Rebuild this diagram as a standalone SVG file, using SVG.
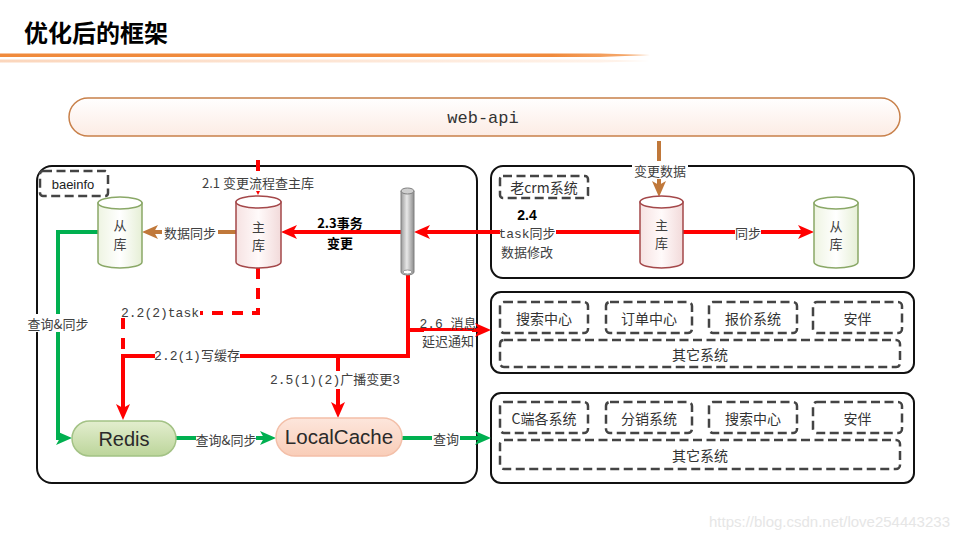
<svg xmlns="http://www.w3.org/2000/svg" width="960" height="540" viewBox="0 0 960 540">
<defs>
<style>
.cjk{font-family:"Noto Sans CJK SC","Liberation Sans",sans-serif;}
.mono{font-family:"Liberation Mono","Noto Sans CJK SC",monospace;}
.lbl{font-size:13px;fill:#404040;text-anchor:middle;dominant-baseline:central;}
.box{fill:#fff;stroke:#111;stroke-width:2;}
.dash{fill:#fff;stroke:#444;stroke-width:2.5;stroke-dasharray:9 4.5;}
.dtxt{font-family:"Noto Sans CJK SC","Liberation Sans",sans-serif;font-size:14px;fill:#333;text-anchor:middle;dominant-baseline:central;}
.red{fill:none;stroke:#ff0000;stroke-width:4;}
.reddash{fill:none;stroke:#ff0000;stroke-width:4;stroke-dasharray:11 9;}
.green{fill:none;stroke:#00b050;stroke-width:4;}
.brown{fill:none;stroke:#c0783a;stroke-width:4;}
.bg{fill:#fff;}
</style>
<marker id="ar" markerUnits="userSpaceOnUse" markerWidth="18" markerHeight="16" refX="10" refY="8" orient="auto"><path d="M0,1 L16,8 L0,15 L4,8 Z" fill="#ff0000"/></marker>
<marker id="ag" markerUnits="userSpaceOnUse" markerWidth="18" markerHeight="16" refX="10" refY="8" orient="auto"><path d="M0,1 L16,8 L0,15 L4,8 Z" fill="#00b050"/></marker>
<marker id="ab" markerUnits="userSpaceOnUse" markerWidth="18" markerHeight="16" refX="10" refY="8" orient="auto"><path d="M0,1 L16,8 L0,15 L4,8 Z" fill="#c0783a"/></marker>
<marker id="ars" markerUnits="userSpaceOnUse" markerWidth="10" markerHeight="8" refX="4" refY="4" orient="auto"><path d="M0,0 L8,4 L0,8 Z" fill="#ff0000"/></marker>
<linearGradient id="gApi" x1="0" y1="0" x2="0" y2="1"><stop offset="0" stop-color="#ffffff"/><stop offset="1" stop-color="#fcece4"/></linearGradient>
<linearGradient id="gCylG" x1="0" y1="0" x2="1" y2="0"><stop offset="0" stop-color="#eef4e2"/><stop offset="0.5" stop-color="#ffffff"/><stop offset="1" stop-color="#e6efd6"/></linearGradient>
<linearGradient id="gCylR" x1="0" y1="0" x2="1" y2="0"><stop offset="0" stop-color="#f6e2e2"/><stop offset="0.5" stop-color="#fffafa"/><stop offset="1" stop-color="#f2dada"/></linearGradient>
<linearGradient id="gPipe" x1="0" y1="0" x2="1" y2="0"><stop offset="0" stop-color="#9a9a9a"/><stop offset="0.45" stop-color="#e8e8e8"/><stop offset="1" stop-color="#8c8c8c"/></linearGradient>
<linearGradient id="gRedis" x1="0" y1="0" x2="0" y2="1"><stop offset="0" stop-color="#e3eecf"/><stop offset="1" stop-color="#bcd59a"/></linearGradient>
<linearGradient id="gLC" x1="0" y1="0" x2="0" y2="1"><stop offset="0" stop-color="#fde6dc"/><stop offset="1" stop-color="#f9cdb8"/></linearGradient>
<linearGradient id="gLine" x1="0" y1="0" x2="1" y2="0"><stop offset="0" stop-color="#f08a3c"/><stop offset="0.85" stop-color="#f08a3c"/><stop offset="1" stop-color="#f6b27c"/></linearGradient>
<linearGradient id="gLine2" x1="0" y1="0" x2="1" y2="0"><stop offset="0" stop-color="#fbd6bc"/><stop offset="1" stop-color="#fff4ec"/></linearGradient>
</defs>

<rect width="960" height="540" fill="#fff"/>

<g id="header">
<text x="24" y="42" class="cjk" font-size="24" font-weight="700" fill="#000">优化后的框架</text>
<polygon points="0,53.5 600,53.5 650,55 600,57 0,57" fill="url(#gLine)"/>
<polygon points="0,59.5 600,59.5 650,61 600,62.5 0,62.5" fill="url(#gLine2)"/>
</g>

<g id="web-api">
<rect x="69" y="98" width="831" height="38" rx="19" fill="url(#gApi)" stroke="#c8804a" stroke-width="1.5"/>
<text x="483" y="123" font-family="Liberation Mono, monospace" font-size="17" fill="#333" text-anchor="middle">web-api</text>
</g>

<g id="containers">
<rect id="box-baeinfo" x="37" y="166" width="440" height="317" rx="15" class="box"/>
<rect id="box-crm" x="491" y="166" width="423" height="112" rx="12" class="box"/>
<rect id="box-notify" x="491" y="292" width="423" height="81" rx="10" class="box"/>
<rect id="box-query" x="491" y="393" width="423" height="90" rx="10" class="box"/>
</g>

<g id="connectors">
<line x1="659" y1="141" x2="659" y2="191" class="brown" marker-end="url(#ab)"/>
<rect x="632" y="161" width="56" height="18" class="bg"/>
<text x="660" y="170" class="cjk lbl">变更数据</text>
<line x1="236" y1="232" x2="148" y2="232" class="brown" marker-end="url(#ab)"/>
<rect x="162" y="223" width="56" height="18" class="bg"/>
<text x="190" y="232" class="cjk lbl">数据同步</text>
<line x1="640" y1="232" x2="420" y2="232" class="red" marker-end="url(#ar)"/>
<rect x="500" y="228" width="56" height="30" class="bg"/>
<text x="527" y="215" font-family="Liberation Sans, sans-serif" font-weight="700" font-size="14" fill="#000" text-anchor="middle" dominant-baseline="central">2.4</text>
<text x="527" y="234" class="mono lbl" font-size="12">task同步</text>
<text x="527" y="251" class="cjk lbl" font-size="12">数据修改</text>
<line x1="401" y1="232" x2="287" y2="232" class="red" marker-end="url(#ar)"/>
<rect x="325" y="234" width="32" height="17" class="bg"/>
<text x="340" y="222" class="cjk" font-size="13" font-weight="700" fill="#000" text-anchor="middle" dominant-baseline="central">2.3事务</text>
<text x="340" y="242" class="cjk" font-size="13" font-weight="700" fill="#000" text-anchor="middle" dominant-baseline="central">变更</text>
<line x1="683" y1="232" x2="808" y2="232" class="red" marker-end="url(#ar)"/>
<rect x="735" y="224" width="26" height="17" class="bg"/>
<text x="748" y="232" class="cjk lbl">同步</text>
<line x1="258" y1="160" x2="258" y2="188" class="reddash"/>
<line x1="258" y1="188" x2="258" y2="191" stroke="#ff0000" stroke-width="2" marker-end="url(#ars)"/>
<rect x="199" y="173" width="119" height="18" class="bg"/>
<text x="258" y="182" class="cjk lbl" fill="#222">2.1 变更流程查主库</text>
<path d="M258,268 V313 H200" class="reddash"/>
<line x1="123" y1="318" x2="123" y2="354" class="reddash" stroke-dasharray="9 8"/>
<text x="160" y="313" class="mono lbl">2.2(2)task</text>
<path d="M408,275 V356 H123 V414" class="red" marker-end="url(#ar)"/>
<rect x="155" y="348" width="85" height="18" class="bg"/>
<text x="197" y="356" class="mono lbl">2.2(1)写缓存</text>
<line x1="408" y1="330" x2="485" y2="330" class="red" marker-end="url(#ar)"/>
<rect x="424" y="331" width="48" height="17" class="bg"/>
<text x="448" y="324" class="mono lbl">2.6 消息</text>
<text x="448" y="340" class="cjk lbl">延迟通知</text>
<line x1="338" y1="356" x2="338" y2="412" class="red" marker-end="url(#ar)"/>
<rect x="272" y="371" width="126" height="18" class="bg"/>
<text x="335" y="380" class="mono lbl">2.5(1)(2)广播变更3</text>
<path d="M98,232 H58 V438 H66" class="green" marker-end="url(#ag)"/>
<rect x="28" y="314" width="62" height="18" class="bg"/>
<text x="58" y="323" class="cjk lbl">查询&amp;同步</text>
<line x1="176" y1="438" x2="270" y2="438" class="green" marker-end="url(#ag)"/>
<rect x="196" y="430" width="60" height="18" class="bg"/>
<text x="226" y="439" class="cjk lbl">查询&amp;同步</text>
<line x1="402" y1="438" x2="485" y2="438" class="green" marker-end="url(#ag)"/>
<rect x="432" y="429" width="28" height="18" class="bg"/>
<text x="446" y="438" class="cjk lbl">查询</text>
</g>

<g id="baeinfo-label">
<rect x="40" y="171" width="68" height="25" rx="3" class="dash"/>
<text x="73" y="184" font-family="Liberation Sans, sans-serif" font-size="13" fill="#222" text-anchor="middle" dominant-baseline="central">baeinfo</text>
</g>

<g id="slave-db">
<path d="M98,203 V262 A22,6 0 0 0 142,262 V203 Z" fill="url(#gCylG)" stroke="#8aa867" stroke-width="1.5"/>
<ellipse cx="120" cy="203" rx="22" ry="6" fill="#fff" stroke="#8aa867" stroke-width="1.5"/>
<text x="120" y="224" class="cjk lbl" font-size="11">从</text>
<text x="120" y="243" class="cjk lbl" font-size="11">库</text>
</g>

<g id="master-db">
<path d="M236,202 V262 A22.5,6 0 0 0 281,262 V202 Z" fill="url(#gCylR)" stroke="#a4484a" stroke-width="1.5"/>
<ellipse cx="258.5" cy="202" rx="22.5" ry="6" fill="#fff" stroke="#a4484a" stroke-width="1.5"/>
<text x="258.5" y="226" class="cjk lbl" font-size="11">主</text>
<text x="258.5" y="244" class="cjk lbl" font-size="11">库</text>
</g>

<g id="mq-pipe">
<path d="M401,191 V272 A6.5,3 0 0 0 414,272 V191 Z" fill="url(#gPipe)" stroke="#808080" stroke-width="1"/>
<ellipse cx="407.5" cy="191" rx="6.5" ry="3" fill="#cfcfcf" stroke="#808080" stroke-width="1"/>
<ellipse cx="407.5" cy="272" rx="4.5" ry="2" fill="#fff" stroke="#808080" stroke-width="0.8"/>
</g>

<g id="redis">
<rect x="72" y="421" width="104" height="35" rx="17.5" fill="url(#gRedis)" stroke="#a3c285" stroke-width="1.5"/>
<text x="124" y="446" font-family="Liberation Sans, sans-serif" font-size="20" fill="#2a2a2a" text-anchor="middle">Redis</text>
</g>

<g id="localcache">
<rect x="276" y="418" width="126" height="38" rx="19" fill="url(#gLC)" stroke="#f3bfa8" stroke-width="1.5"/>
<text x="339" y="444" font-family="Liberation Sans, sans-serif" font-size="20.5" fill="#2a2a2a" text-anchor="middle">LocalCache</text>
</g>

<g id="crm-label">
<rect x="500" y="176" width="88" height="22" rx="3" class="dash"/>
<text x="544" y="187" class="dtxt" font-size="13">老crm系统</text>
</g>

<g id="crm-master-db">
<path d="M640,202 V262 A21.5,6 0 0 0 683,262 V202 Z" fill="url(#gCylR)" stroke="#a4484a" stroke-width="1.5"/>
<ellipse cx="661.5" cy="202" rx="21.5" ry="6" fill="#fff" stroke="#a4484a" stroke-width="1.5"/>
<text x="661.5" y="224" class="cjk lbl" font-size="11">主</text>
<text x="661.5" y="242" class="cjk lbl" font-size="11">库</text>
</g>

<g id="crm-slave-db">
<path d="M814,203 V262 A22,6 0 0 0 858,262 V203 Z" fill="url(#gCylG)" stroke="#8aa867" stroke-width="1.5"/>
<ellipse cx="836" cy="203" rx="22" ry="6" fill="#fff" stroke="#8aa867" stroke-width="1.5"/>
<text x="836" y="225" class="cjk lbl" font-size="11">从</text>
<text x="836" y="243" class="cjk lbl" font-size="11">库</text>
</g>

<g id="notify-systems">
<rect x="500" y="302" width="88" height="31" rx="4" class="dash"/>
<text x="544" y="317.5" class="dtxt">搜索中心</text>
<rect x="606" y="302" width="86" height="31" rx="4" class="dash"/>
<text x="649" y="317.5" class="dtxt">订单中心</text>
<rect x="709" y="302" width="88" height="31" rx="4" class="dash"/>
<text x="753" y="317.5" class="dtxt">报价系统</text>
<rect x="813" y="302" width="89" height="31" rx="4" class="dash"/>
<text x="857.5" y="317.5" class="dtxt">安伴</text>
<rect x="500" y="340" width="400" height="27" rx="4" class="dash"/>
<text x="700" y="353.5" class="dtxt">其它系统</text>
</g>

<g id="query-systems">
<rect x="500" y="402" width="88" height="31" rx="4" class="dash"/>
<text x="544" y="417.5" class="dtxt">C端各系统</text>
<rect x="606" y="402" width="86" height="31" rx="4" class="dash"/>
<text x="649" y="417.5" class="dtxt">分销系统</text>
<rect x="709" y="402" width="88" height="31" rx="4" class="dash"/>
<text x="753" y="417.5" class="dtxt">搜索中心</text>
<rect x="813" y="402" width="89" height="31" rx="4" class="dash"/>
<text x="857.5" y="417.5" class="dtxt">安伴</text>
<rect x="500" y="440" width="400" height="29" rx="4" class="dash"/>
<text x="700" y="454.5" class="dtxt">其它系统</text>
</g>

<text x="950" y="527" font-family="Liberation Sans, sans-serif" font-size="15" fill="#e6e6e6" text-anchor="end">https://blog.csdn.net/love254443233</text>
</svg>
